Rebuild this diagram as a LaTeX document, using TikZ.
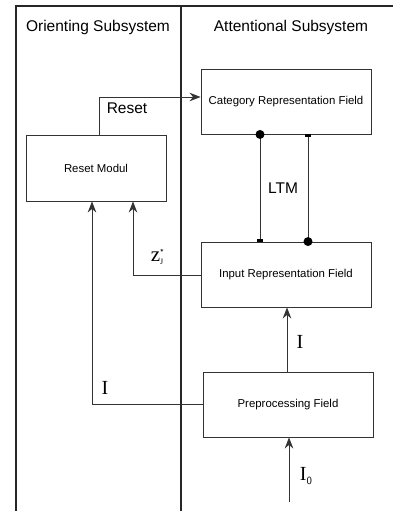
\documentclass[tikz,border=0pt]{standalone}
\usepackage{fontspec}
\setmainfont{Liberation Sans}
\newfontfamily\serifI{Liberation Serif}
\usetikzlibrary{arrows.meta}
\tikzset{
  frame/.style={line width=1.3pt, draw=black!85},
  field/.style={draw=black!80, line width=0.9pt, rectangle, minimum width=170pt, minimum height=65pt, inner sep=0pt, font=\fontsize{11.4}{13}\selectfont},
  wire/.style={draw=black!80, line width=0.9pt},
  arr/.style={wire, -{Stealth[length=11pt,width=8.5pt,inset=3.5pt]}},
  head/.style={font=\fontsize{15.5}{18}\selectfont, inner sep=0pt},
  sym/.style={font=\serifI\fontsize{20}{22}\selectfont, inner sep=0pt},
  dotend/.style={circle, fill=black, inner sep=0pt, minimum size=9pt},
  barend/.style={fill=black, inner sep=0pt, minimum width=6pt, minimum height=3pt, rectangle}
}
\begin{document}
\begin{tikzpicture}[x=1pt,y=-1pt]
\useasboundingbox (0,0) rectangle (393,511);
% subsystem frame
\draw[frame] (16,511) -- (16,6) -- (393,6);
\draw[frame] (181,6) -- (181,511);
\node[head] (orient) at (98,27) {Orienting Subsystem};
\node[head] (attn) at (291,27) {Attentional Subsystem};

% fields
\node[field] (cat) at (286,101.5) {Category Representation Field};
\node[field] (inp) at (286,274.5) {Input Representation Field};
\node[field] (pre) at (288,404.5) {Preprocessing Field};
\node[field, minimum width=140pt, minimum height=66pt] (reset) at (96,168) {Reset Modul};

% reset signal
\draw[arr] (reset.north -| 99,0) -- (99,97) -- (cat.west |- 0,97);
\node[head] (resetlbl) at (127,108) {Reset};

% LTM connections
\coordinate (l1) at (260,0);
\coordinate (l2) at (308,0);
\draw[wire] (cat.south -| l1) -- (inp.north -| l1);
\draw[wire] (cat.south -| l2) -- (inp.north -| l2);
\node[dotend] at (cat.south -| l1) {};
\node[barend] at ([yshift=1pt]inp.north -| l1) {};
\node[barend] at ([yshift=-1pt]cat.south -| l2) {};
\node[dotend] at (inp.north -| l2) {};
\node[head] (ltm) at (283,188) {LTM};

% match signal to reset module
\draw[arr] (inp.west |- 0,275) -- (133,275) -- (reset.south -| 133,0);
\node[inner sep=0pt] (zlbl) at (157,257) {\serifI\fontsize{21}{22}\selectfont z\rlap{\raisebox{6.5pt}{\fontsize{7}{8}\selectfont\sffamily *}}\raisebox{-3pt}{\fontsize{8}{9}\selectfont J}};

% input pattern to reset module
\draw[arr] (pre.west |- 0,404) -- (92,404) -- (reset.south -| 92,0);
\node[sym] (i1) at (105,388) {I};

% preprocessing to input field
\draw[arr] (pre.north -| 287,0) -- (inp.south -| 287,0);
\node[sym] (i2) at (300,342) {I};

% external input
\coordinate (src) at (289,502);
\draw[arr] (src) -- (pre.south -| src);
\node[sym] (i0) at (306,476) {I\raisebox{-4pt}{\fontsize{11}{12}\selectfont\sffamily 0}};
\end{tikzpicture}
\end{document}
